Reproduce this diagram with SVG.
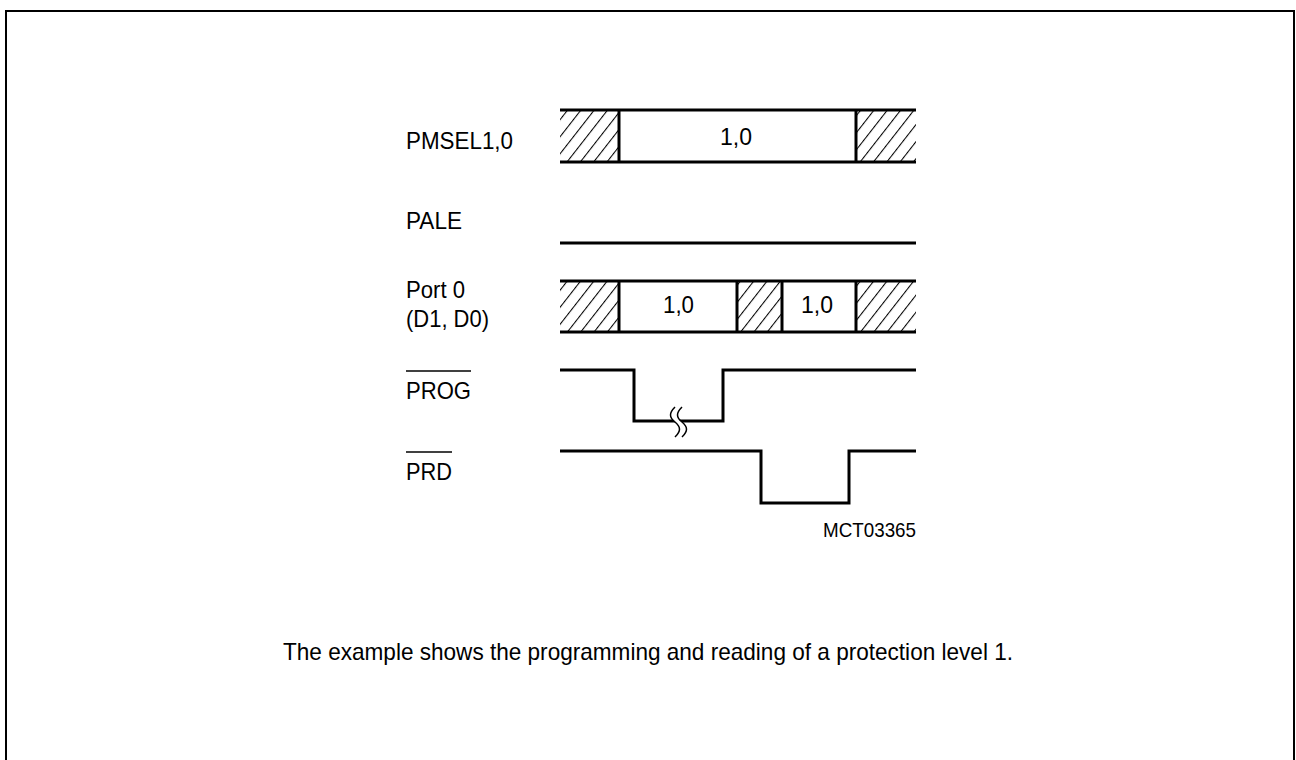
<svg xmlns="http://www.w3.org/2000/svg" width="1296" height="760" viewBox="0 0 1296 760">
<style>
text{font-family:"Liberation Sans",Arial,sans-serif;font-size:24px;fill:#000}
.sig{fill:none;stroke:#000;stroke-width:3;stroke-linejoin:miter;stroke-linecap:butt}
.thin{fill:none;stroke:#000;stroke-width:1.5}
.hatch{fill:url(#hatch);stroke:none}
</style>
<defs>
<pattern id="hatch" patternUnits="userSpaceOnUse" width="10.5" height="10.5" patternTransform="rotate(38)">
<rect width="10.5" height="10.5" fill="#fff"/>
<line x1="0.5" y1="-1" x2="0.5" y2="12" stroke="#000" stroke-width="1.1"/>
</pattern>
</defs>
<rect x="0" y="0" width="1296" height="760" fill="#fff"/>
<rect x="6" y="11" width="1288" height="800" fill="none" stroke="#000" stroke-width="2"/>

<g id="labels">
<text x="406" y="149" textLength="107" lengthAdjust="spacingAndGlyphs">PMSEL1,0</text>
<text x="406" y="229" textLength="56" lengthAdjust="spacingAndGlyphs">PALE</text>
<text x="406" y="298" textLength="59" lengthAdjust="spacingAndGlyphs">Port 0</text>
<text x="406" y="327" textLength="83" lengthAdjust="spacingAndGlyphs">(D1, D0)</text>
<text x="406" y="399" textLength="65" lengthAdjust="spacingAndGlyphs">PROG</text>
<line class="thin" x1="406" y1="371" x2="471" y2="371"/>
<text x="406" y="480" textLength="46" lengthAdjust="spacingAndGlyphs">PRD</text>
<line class="thin" x1="406" y1="452" x2="452" y2="452"/>
</g>

<g id="pmsel">
<rect class="hatch" x="560" y="110" width="59" height="52"/>
<rect class="hatch" x="856" y="110" width="60" height="52"/>
<line class="sig" x1="560" y1="110" x2="916" y2="110"/>
<line class="sig" x1="560" y1="162" x2="916" y2="162"/>
<line class="sig" x1="619" y1="110" x2="619" y2="162"/>
<line class="sig" x1="856" y1="110" x2="856" y2="162"/>
<text x="720" y="145" textLength="32" lengthAdjust="spacingAndGlyphs">1,0</text>
</g>

<g id="pale">
<line class="sig" x1="560" y1="243" x2="916" y2="243"/>
</g>

<g id="port0">
<rect class="hatch" x="560" y="281" width="59" height="51"/>
<rect class="hatch" x="737" y="281" width="45" height="51"/>
<rect class="hatch" x="856" y="281" width="60" height="51"/>
<line class="sig" x1="560" y1="281" x2="916" y2="281"/>
<line class="sig" x1="560" y1="332" x2="916" y2="332"/>
<line class="sig" x1="619" y1="281" x2="619" y2="332"/>
<line class="sig" x1="737" y1="281" x2="737" y2="332"/>
<line class="sig" x1="782" y1="281" x2="782" y2="332"/>
<line class="sig" x1="856" y1="281" x2="856" y2="332"/>
<text x="663" y="313" textLength="31" lengthAdjust="spacingAndGlyphs">1,0</text>
<text x="801" y="313" textLength="32" lengthAdjust="spacingAndGlyphs">1,0</text>
</g>

<g id="prog">
<path class="sig" d="M560,370 H634 V421 H723 V370 H916"/>
<path d="M675,407 C669,413 669,417 675,422 C681,427 681,431 675,437 L682,437 C688,431 688,427 682,422 C676,417 676,413 682,407 Z" fill="#fff" stroke="none"/>
<path class="thin" d="M675,407 C669,413 669,417 675,422 C681,427 681,431 675,437"/>
<path class="thin" d="M682,407 C676,413 676,417 682,422 C688,427 688,431 682,437"/>
</g>

<g id="prd">
<path class="sig" d="M560,451 H761 V503 H849 V451 H916"/>
</g>

<g id="connectors"></g>

<text x="823" y="537" style="font-size:21px" textLength="93" lengthAdjust="spacingAndGlyphs">MCT03365</text>
<text x="283" y="660" textLength="730" lengthAdjust="spacingAndGlyphs">The example shows the programming and reading of a protection level 1.</text>
</svg>
